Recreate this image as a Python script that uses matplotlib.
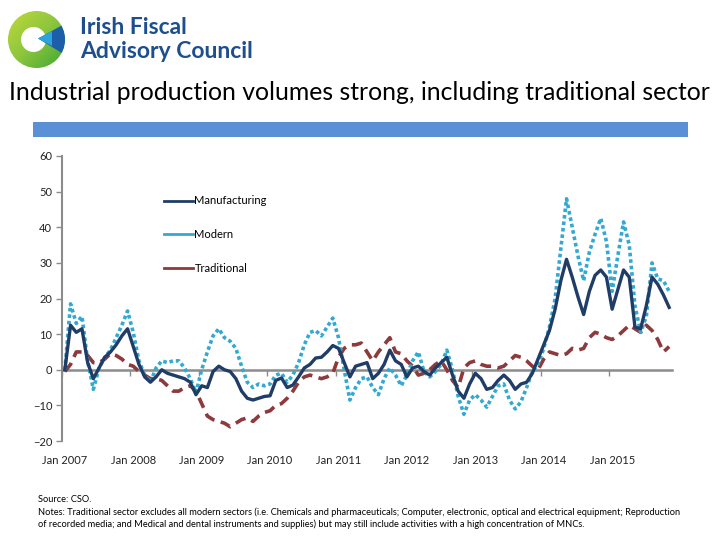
import numpy as np
import matplotlib
matplotlib.use("Agg")
import matplotlib.pyplot as plt
from matplotlib.patches import Circle, Polygon, Rectangle
from matplotlib.lines import Line2D

plt.rcParams['font.family'] = ['Lato', 'DejaVu Sans']

# ---------------- data ----------------
start_year = 2007
tick_labels = ["Jan 2007", "Jan 2008", "Jan 2009", "Jan 2010", "Jan 2011",
               "Jan 2012", "Jan 2013", "Jan 2014", "Jan 2015"]
tick_index = [0, 12, 24, 36, 48, 60, 72, 84, 96]

manufacturing = [
    0, 12.5, 10.5, 11.5, 2, -2.5, 0.5, 3.5, 5, 7, 9.5, 11.5,
    6.5, 1.5, -2, -3.5, -2, 0, -1, -1.5, -2, -2.5, -3.5, -7,
    -4.5, -5, -0.5, 1, 0, -0.5, -2.5, -6, -8, -8.5, -8, -7.5,
    -7.3, -3, -2.3, -5, -4.3, -2, 0.5, 1.5, 3.3, 3.5, 5, 6.8,
    6, 2, -2, 1, 1.5, 2, -2.5, -1, 1.5, 5.5, 2.5, 1.5,
    -2, 0.5, 1, -0.5, -1.5, 0.5, 2, 3.5, -1.5, -6, -8, -4,
    -1, -2.5, -5.5, -5, -3, -1.5, -3, -5.5, -4, -3.5, -1, 3,
    7, 11, 17, 25, 31, 26, 20.5, 15.5, 22, 26.5, 28, 26,
    17, 22.5, 28, 26, 12, 11.5, 18, 26, 24, 21, 17.5]

modern = [
    0, 18.5, 13, 15, 2.5, -5.5, 0.5, 3.5, 5.5, 9, 12.5, 16.5,
    10.5, 2.5, -1.5, -3.5, 0.5, 2.5, 2, 2.5, 2.5, 0.5, -2.5, -6.5,
    0, 5, 9.5, 11.5, 9, 8, 6, 1, -3.5, -5, -4, -4.5,
    -4, -1.5, -1, -3.5, -1.5, 2, 7, 10.5, 11, 9.5, 12, 14.5,
    9, 0, -8.5, -5, -2.5, -2, -5, -7, -2.5, 0.5, -1.5, -4.5,
    -1.5, 2.5, 5, -0.5, -2, -0.5, 1.5, 5.5, 0, -7.5, -12.5, -8.5,
    -7, -8.5, -10.5, -7.5, -4.5, -4, -8.5, -11, -9, -5, -0.5, 1.5,
    6, 12, 20, 34, 48, 40, 32, 25, 33, 38, 42.5, 36,
    22, 32, 41.5, 35, 18, 10.5, 15, 30, 25.5, 25, 22]

traditional = [
    -0.5, 1.5, 5, 5, 4, 2, 2, 3, 4.5, 4, 3, 1.5,
    1, -0.5, -1.5, -2.5, -2.5, -3, -4.5, -6, -6, -5, -4.5, -6,
    -9.5, -13, -14, -14.5, -15, -16, -15, -14, -13.5, -14.5, -13, -12,
    -11.5, -10, -9.5, -8, -6, -3.5, -2, -1.5, -2, -2.5, -2, -1,
    3.5, 6, 7, 7, 7.5, 5, 2.5, 5, 7, 9, 5, 4.5,
    2.5, 1, -1.5, -1, 0, 1.5, 2.5, 0, -3, -5, 0.5, 2,
    2.5, 1.5, 1, 1, 0.5, 1, 2.5, 4, 3.5, 2.5, 1, 0,
    3, 5, 4.5, 4, 4.5, 6, 5.5, 6, 9, 10.5, 10, 9,
    8.5, 9.5, 11, 12.5, 11.5, 10.5, 12.5, 11, 8.5, 5, 6.5]

series_names = ["Manufacturing", "Modern", "Traditional"]
y_ticks = [-20, -10, 0, 10, 20, 30, 40, 50, 60]

title = "Industrial production volumes strong, including traditional sector"
source_txt = "Source: CSO."
notes_1 = ("Notes: Traditional sector excludes all modern sectors (i.e. Chemicals and pharmaceuticals; "
           "Computer, electronic, optical and electrical equipment; Reproduction")
notes_2 = ("of recorded media; and Medical and dental instruments and supplies) but may still "
           "include activities with a high concentration of MNCs.")

# ---------------- styles ----------------
c_manu = "#1F3D66"
c_mod = "#33A9D2"
c_trad = "#8C3A3C"
c_axis = "#8C8C8C"

W, H = 720, 540
fig = plt.figure(figsize=(7.2, 5.4), dpi=100)

# ---------------- logo ----------------
lax = fig.add_axes([0, 1 - 76 / H, 76 / W, 76 / H])
lax.set_xlim(0, 76)
lax.set_ylim(76, 0)
lax.set_aspect('equal')
lax.axis('off')
gx, gy = np.meshgrid(np.linspace(0, 1, 64), np.linspace(0, 1, 64))
grad = gx * 0.5 + gy * 0.5
cmap = matplotlib.colors.LinearSegmentedColormap.from_list("g", ["#C2D93A", "#8CC63E", "#3FA535"])
im = lax.imshow(grad, extent=[7, 66, 69, 10], cmap=cmap, origin='upper', zorder=1)
ring = Circle((36.5, 39.5), 28.5, transform=lax.transData, facecolor='none', edgecolor='none')
lax.add_patch(ring)
im.set_clip_path(ring)
lax.add_patch(Circle((33.5, 39.5), 12.5, facecolor='white', edgecolor='none', zorder=2))
p1 = Polygon([[38, 38.5], [70, 21], [70, 58]], closed=True,
             facecolor='#1C5FA8', edgecolor='none', zorder=3)
lax.add_patch(p1)
p1.set_clip_path(ring)
p2 = Polygon([[38, 38.5], [52, 31], [52, 46]], closed=True,
             facecolor='#2BA3DD', edgecolor='none', zorder=4)
lax.add_patch(p2)

fig.text(80 / W, 1 - 27 / H, "Irish Fiscal", fontsize=16.5, fontweight='bold',
         color='#1D4F8F', va='center', ha='left')
fig.text(80 / W, 1 - 51 / H, "Advisory Council", fontsize=16.5, fontweight='bold',
         color='#1D4F8F', va='center', ha='left')

# ---------------- title and bar ----------------
fig.text(359 / W, 1 - 92 / H, title, fontsize=17.8, color='black', ha='center', va='center')
fig.patches.append(Rectangle((33 / W, 1 - 137 / H), 655 / W, 15 / H,
                             transform=fig.transFigure, facecolor='#5B8FD6',
                             edgecolor='none', figure=fig))

# ---------------- chart ----------------
ax = fig.add_axes([62 / W, 1 - 441 / H, 610 / W, 285 / H])
n = len(manufacturing)
x = np.arange(n)
ax.plot(x, traditional, color=c_trad, lw=2.6, linestyle=(0, (3.0, 1.8)), zorder=3)
ax.plot(x, modern, color=c_mod, lw=2.6, linestyle=(0, (1, 0.8)), zorder=4)
ax.plot(x, manufacturing, color=c_manu, lw=2.4, zorder=5, solid_joinstyle='round')

ax.set_xlim(-0.5, n - 0.5)
ax.set_ylim(-20, 60)
ax.set_yticks(y_ticks)
ax.tick_params(axis='y', direction='out', length=4, width=1, color=c_axis,
               labelsize=8, labelcolor='#222222', pad=3)
for s in ['top', 'right']:
    ax.spines[s].set_visible(False)
ax.spines['left'].set_color(c_axis)
ax.spines['left'].set_linewidth(1.5)
ax.spines['bottom'].set_position(('data', 0))
ax.spines['bottom'].set_color(c_axis)
ax.spines['bottom'].set_linewidth(1.8)
ax.set_xticks(np.array(tick_index) - 0.5)
ax.tick_params(axis='x', direction='out', length=4, width=1, color=c_axis, labelbottom=False)

sec = ax.secondary_xaxis(0)
sec.set_xticks(tick_index)
sec.set_xticklabels(tick_labels)
sec.tick_params(axis='x', length=0, labelsize=8, labelcolor='#222222', pad=10)
sec.spines['bottom'].set_visible(False)

handles = [Line2D([], [], color=c_manu, lw=2),
           Line2D([], [], color=c_mod, lw=2),
           Line2D([], [], color=c_trad, lw=2)]
leg = ax.legend(handles, series_names, loc='upper left',
                bbox_to_anchor=((160 - 62) / 610, (441 - 191) / 285),
                frameon=False, fontsize=8, handlelength=2.6, handletextpad=0.1,
                labelspacing=2.05, borderaxespad=0)

# ---------------- notes ----------------
fig.text(38 / W, 1 - 499 / H, source_txt, fontsize=6.7, ha='left', va='center')
fig.text(38 / W, 1 - 512 / H, notes_1, fontsize=6.7, ha='left', va='center')
fig.text(38 / W, 1 - 524 / H, notes_2, fontsize=6.7, ha='left', va='center')

fig.savefig("out.png", dpi=100)
